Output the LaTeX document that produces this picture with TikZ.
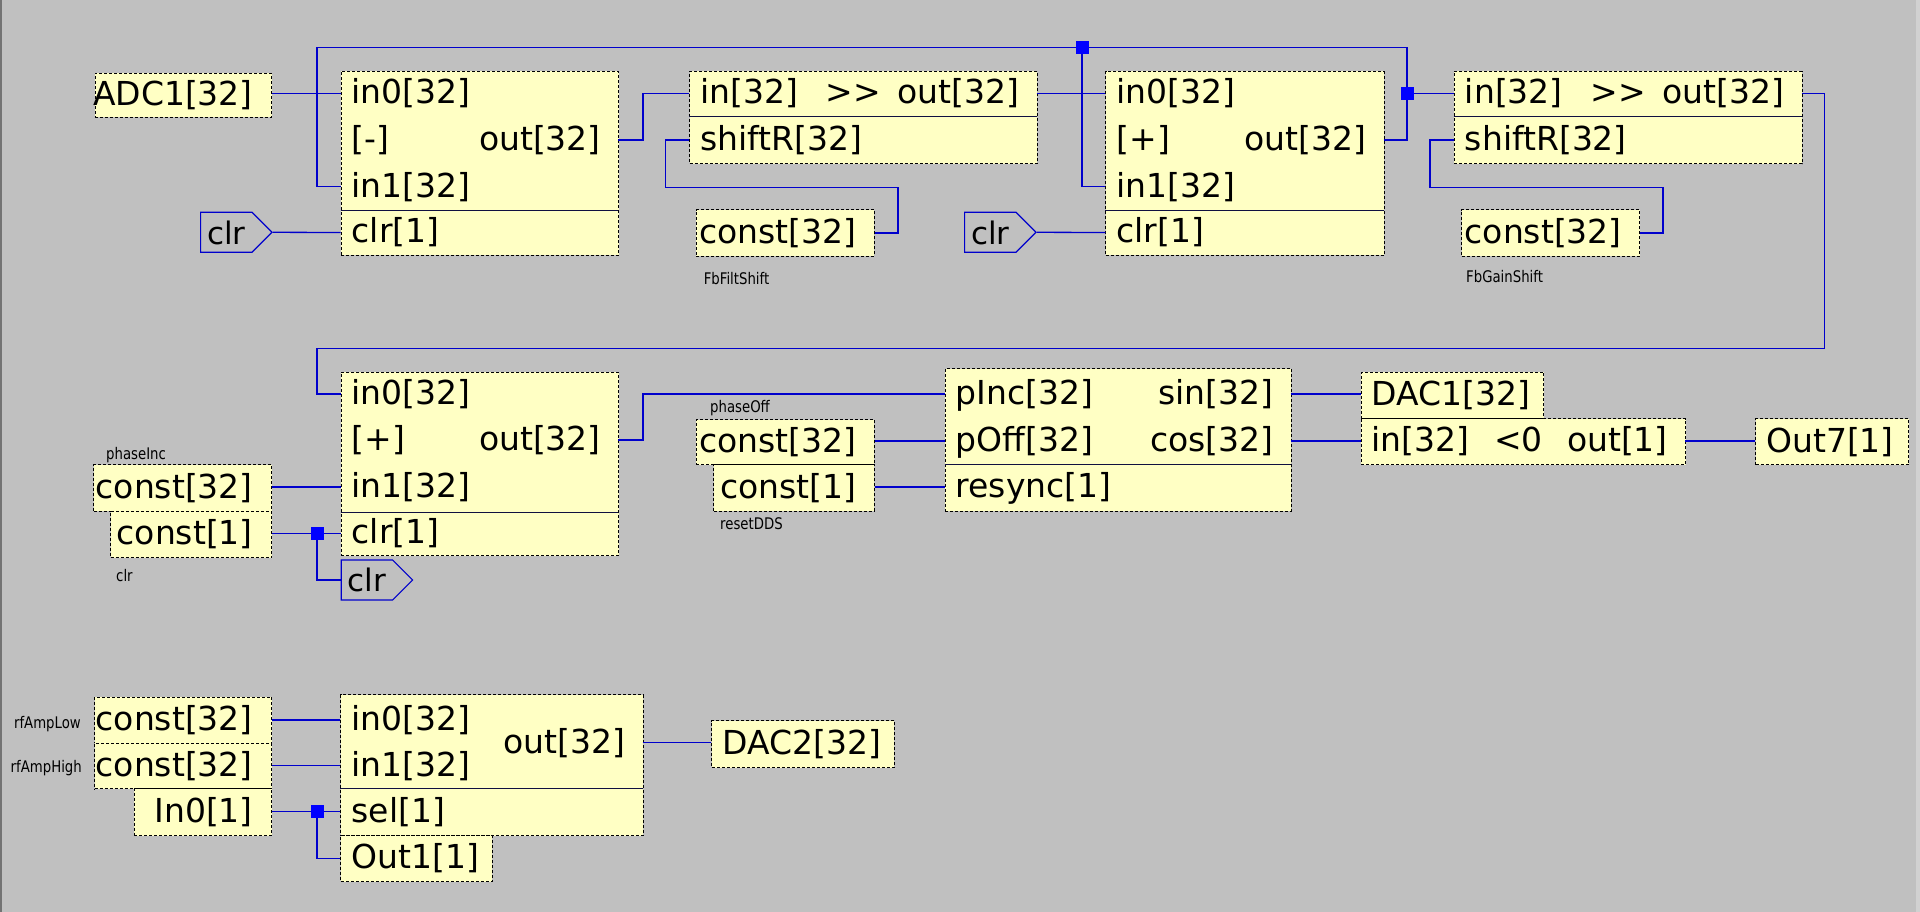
\documentclass[tikz,border=0pt]{standalone}
\usepackage{fontspec}
\setmainfont{DejaVu Sans}
\newfontfamily\lblfont[FakeStretch=0.83]{DejaVu Sans}
\usetikzlibrary{shapes.symbols,calc}
\definecolor{BgGray}{HTML}{C0C0C0}
\definecolor{BoxYellow}{HTML}{FFFFC4}
\definecolor{WireBlue}{HTML}{0000CC}
\definecolor{DotBlue}{HTML}{0000FF}
\definecolor{SepNavy}{HTML}{101040}
\newcommand\pinfont{\fontsize{33}{40}\selectfont}

\begin{document}
\begin{tikzpicture}[x=1pt,y=-1pt,
  box/.style={draw=black,dash pattern=on 3pt off 2pt,line width=1pt,fill=BoxYellow,inner sep=0pt,anchor=north west},
  pin/.style={font=\pinfont,inner ysep=0pt,text height=25pt,text depth=4.3pt},
  pl/.style={pin,anchor=west,inner xsep=11pt},
  pr/.style={pin,anchor=east,inner xsep=17pt},
  pi/.style={pin,anchor=east,inner xsep=19pt},
  wire/.style={WireBlue,line width=1.3pt},
  sepline/.style={SepNavy,line width=1.3pt},
  dot/.style={fill=DotBlue,minimum size=13pt,inner sep=0pt},
  tag/.style={signal,signal to=east,signal pointer angle=90,draw=WireBlue,line width=1.2pt,font=\fontsize{31}{36}\selectfont,inner xsep=6.5pt,inner ysep=0pt,minimum height=40pt,text height=23.6pt,text depth=0pt,anchor=west},
  lbl/.style={font=\lblfont\fontsize{16}{18}\selectfont,inner sep=0pt}]
  \useasboundingbox (0,0) rectangle (1920,912);
  \fill[BgGray] (0,0) rectangle (1920,912);
  \fill[black!55] (0,0) rectangle (2,912);
  \fill[black!18] (1916,0) rectangle (1920,912);

  % feedback filter: subtract, shift, add, shift
  \node[box,minimum width=176.5pt,minimum height=44pt] (adc) at (94.5,73) {};
  \node[pi] (adctxt) at (adc.east) {ADC1[32]};

  \node[box,minimum width=277.5pt,minimum height=184pt] (sub) at (340.5,71) {};
  \draw[sepline] (340.5,210.3) -- (618,210.3);
  \node[pl] (subin0) at (340.5,93.3) {in0[32]};
  \node[pl] (subop) at (340.5,140) {[-]};
  \node[pr] (subout) at (618,140) {out[32]};
  \node[pl] (subin1) at (340.5,186.7) {in1[32]};
  \node[pl] (subclr) at (340.5,232.5) {clr[1]};
  \node[tag] (clra) at (200,232.3) {clr};

  \node[box,minimum width=347.6pt,minimum height=92.3pt] (shr1) at (689,71) {};
  \draw[sepline] (689,116.7) -- (1036.6,116.7);
  \node[pl] (shr1in) at (689,93.3) {in[32]};
  \node[pin] (shr1op) at (853,93.3) {>{}>};
  \node[pr] (shr1out) at (1036.6,93.3) {out[32]};
  \node[pl] (shr1sh) at (689,140) {shiftR[32]};

  \node[box,minimum width=178.2pt,minimum height=46.4pt] (ffs) at (695.5,209.3) {};
  \node[pi,inner xsep=18pt] (ffstxt) at (ffs.east) {const[32]};
  \node[lbl,anchor=west] (ffsname) at (703.6,279) {FbFiltShift};

  \node[tag] (clrb) at (964,232.3) {clr};
  \node[box,minimum width=278.2pt,minimum height=184pt] (add) at (1105.4,71) {};
  \draw[sepline] (1105.4,210.3) -- (1383.6,210.3);
  \node[pl] (addin0) at (1105.4,93.3) {in0[32]};
  \node[pl] (addop) at (1105.4,140) {[+]};
  \node[pr] (addout) at (1383.6,140) {out[32]};
  \node[pl] (addin1) at (1105.4,186.7) {in1[32]};
  \node[pl] (addclr) at (1105.4,232.5) {clr[1]};

  \node[box,minimum width=347.9pt,minimum height=92.3pt] (shr2) at (1453.7,71) {};
  \draw[sepline] (1453.7,116.7) -- (1801.6,116.7);
  \node[pl] (shr2in) at (1453.7,93.3) {in[32]};
  \node[pin] (shr2op) at (1618,93.3) {>{}>};
  \node[pr] (shr2out) at (1801.6,93.3) {out[32]};
  \node[pl] (shr2sh) at (1453.7,140) {shiftR[32]};

  \node[box,minimum width=178pt,minimum height=46.4pt] (fgs) at (1461,209.3) {};
  \node[pi,inner xsep=18pt] (fgstxt) at (fgs.east) {const[32]};
  \node[lbl,anchor=west] (fgsname) at (1466,277) {FbGainShift};

  % phase accumulator and DDS
  \node[box,minimum width=277.5pt,minimum height=183.3pt] (acc) at (340.5,371.7) {};
  \draw[sepline] (340.5,512.7) -- (618,512.7);
  \node[pl] (accin0) at (340.5,394) {in0[32]};
  \node[pl] (accop) at (340.5,440) {[+]};
  \node[pr] (accout) at (618,440) {out[32]};
  \node[pl] (accin1) at (340.5,487) {in1[32]};
  \node[pl] (accclr) at (340.5,533.3) {clr[1]};

  \node[box,minimum width=177.7pt,minimum height=46.4pt] (pinc) at (93.3,464.3) {};
  \node[pi] (pinctxt) at (pinc.east) {const[32]};
  \node[lbl,anchor=west] (pincname) at (106,455) {phaseInc};
  \node[box,minimum width=161pt,minimum height=46.3pt] (clrk) at (110,510.7) {};
  \node[pi] (clrktxt) at (clrk.east) {const[1]};
  \node[lbl,anchor=west] (clrkname) at (116,576) {clr};
  \node[tag] (clrc) at (340.6,580) {clr};

  \node[box,minimum width=346pt,minimum height=142.4pt] (dds) at (944.6,368.3) {};
  \draw[sepline] (944.6,464.3) -- (1290.6,464.3);
  \node[pl] (ddsinc) at (944.6,394) {pInc[32]};
  \node[pr] (ddssin) at (1290.6,394) {sin[32]};
  \node[pl] (ddsoff) at (944.6,441) {pOff[32]};
  \node[pr] (ddscos) at (1290.6,441) {cos[32]};
  \node[pl] (ddsrs) at (944.6,487) {resync[1]};

  \node[box,minimum width=178.2pt,minimum height=45.3pt] (poff) at (695.5,419) {};
  \node[pi,inner xsep=18pt] (pofftxt) at (poff.east) {const[32]};
  \node[lbl,anchor=west] (poffname) at (710,407.7) {phaseOff};
  \node[box,minimum width=160.3pt,minimum height=46.2pt] (rdds) at (713.4,464.3) {};
  \node[pi,inner xsep=18pt] (rddstxt) at (rdds.east) {const[1]};
  \node[lbl,anchor=west] (rddsname) at (720,523.7) {resetDDS};

  \node[box,minimum width=182.4pt,minimum height=46.6pt] (dac1) at (1360.6,371.7) {};
  \node[pl] (dac1txt) at (dac1.west) {DAC1[32]};
  \node[box,minimum width=324.4pt,minimum height=46pt] (cmp) at (1360.6,418.3) {};
  \node[pl] (cmpin) at (1360.6,441) {in[32]};
  \node[pin] (cmpop) at (1518.5,441) {<0};
  \node[pr] (cmpout) at (1685,441) {out[1]};
  \node[box,minimum width=153pt,minimum height=46pt] (out7) at (1755,418.3) {};
  \node[pl] (out7txt) at (out7.west) {Out7[1]};

  % amplitude select
  \node[box,minimum width=177pt,minimum height=46pt] (rflo) at (94,696.7) {};
  \node[pi] (rflotxt) at (rflo.east) {const[32]};
  \node[lbl,anchor=east] (rfloname) at (81,724.3) {rfAmpLow};
  \node[box,minimum width=177pt,minimum height=45.6pt] (rfhi) at (94,742.7) {};
  \node[pi] (rfhitxt) at (rfhi.east) {const[32]};
  \node[lbl,anchor=east] (rfhiname) at (82,768.3) {rfAmpHigh};
  \node[box,minimum width=137.2pt,minimum height=46.7pt] (in0) at (133.8,788.3) {};
  \node[pi] (in0txt) at (in0.east) {In0[1]};

  \node[box,minimum width=302.2pt,minimum height=140.7pt] (mux) at (340.4,694.3) {};
  \draw[sepline] (340.4,788.3) -- (642.6,788.3);
  \node[pl] (muxin0) at (340.4,720) {in0[32]};
  \node[pl] (muxin1) at (340.4,765.7) {in1[32]};
  \node[pr] (muxout) at (642.6,742.7) {out[32]};
  \node[pl] (muxsel) at (340.4,811.7) {sel[1]};
  \node[box,minimum width=151.4pt,minimum height=46pt] (out1) at (340.4,835) {};
  \node[pl] (out1txt) at (out1.west) {Out1[1]};
  \node[box,minimum width=182.5pt,minimum height=47.3pt] (dac2) at (711.3,720) {};
  \node[pl] (dac2txt) at (dac2.west) {DAC2[32]};

  % wires
  \coordinate (jA) at (1082,47.3);
  \coordinate (jB) at (1407,93.3);
  \coordinate (jC) at (317,533.3);
  \coordinate (jD) at (317,811.7);
  \coordinate (fbtop) at (317,47.3);
  \coordinate (fbmid) at (317,348.3);

  \draw[wire] (adc.east |- subin0.west) -- (subin0.west);
  \draw[wire] (clra.east) -- (subclr.west);
  \draw[wire] (subout.east) -- ++(25,0) |- (shr1in.west);
  \draw[wire] (shr1sh.west) -- ++(-23.4,0) |- ($(ffs.east)+(23.2,-45.8)$) |- (ffs.east);
  \draw[wire] (shr1out.east) -- (addin0.west);
  \draw[wire] (jA) |- (addin1.west);
  \draw[wire] (clrb.east) -- (addclr.west);
  \draw[wire] (addout.east) -| (jB) -- (shr2in.west);
  \draw[wire] (jB) |- (fbtop) |- (subin1.west);
  \draw[wire] (shr2sh.west) -- ++(-23.7,0) |- ($(fgs.east)+(23,-45.8)$) |- (fgs.east);
  \draw[wire] (shr2out.east) -- ++(23,0) |- (fbmid) |- (accin0.west);

  \draw[wire] (pinc.east |- accin1.west) -- (accin1.west);
  \draw[wire] (clrk.east |- accclr.west) -- (accclr.west);
  \draw[wire] (jC) |- (clrc.west);
  \draw[wire] (accout.east) -- ++(25,0) |- (ddsinc.west);
  \draw[wire] (poff.east |- ddsoff.west) -- (ddsoff.west);
  \draw[wire] (rdds.east |- ddsrs.west) -- (ddsrs.west);
  \draw[wire] (ddssin.east) -- (dac1.west |- ddssin.east);
  \draw[wire] (ddscos.east) -- (cmpin.west);
  \draw[wire] (cmpout.east) -- (out7.west |- cmpout.east);

  \draw[wire] (rflo.east |- muxin0.west) -- (muxin0.west);
  \draw[wire] (rfhi.east |- muxin1.west) -- (muxin1.west);
  \draw[wire] (in0.east |- muxsel.west) -- (muxsel.west);
  \draw[wire] (jD) |- (out1.west);
  \draw[wire] (muxout.east) -- (dac2.west |- muxout.east);

  \node[dot] (jAdot) at (jA) {};
  \node[dot] (jBdot) at (jB) {};
  \node[dot] (jCdot) at (jC) {};
  \node[dot] (jDdot) at (jD) {};
\end{tikzpicture}
\end{document}
